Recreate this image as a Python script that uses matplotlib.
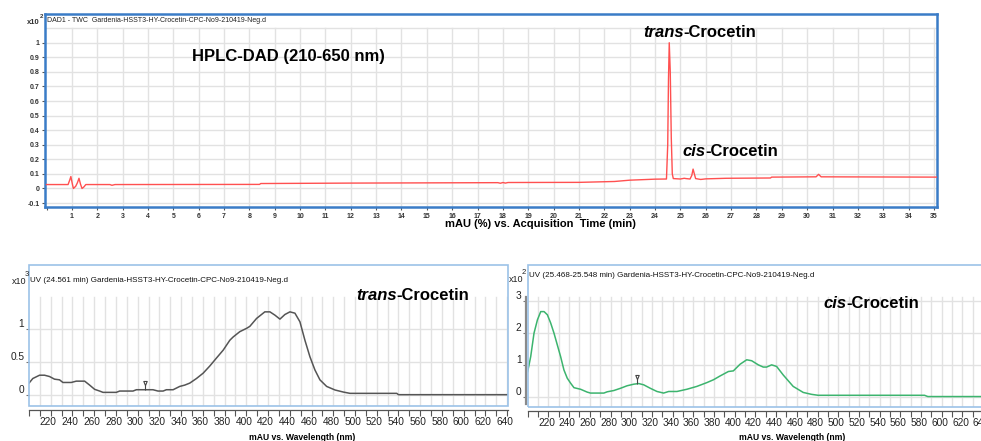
import numpy as np
import matplotlib
matplotlib.use("Agg")
import matplotlib.pyplot as plt
from matplotlib.path import Path
from matplotlib.patches import Rectangle

plt.rcParams['font.family'] = ['Liberation Sans', 'DejaVu Sans']
NARROW = ['Liberation Sans Narrow', 'Liberation Sans', 'DejaVu Sans']

# ---------------- data ----------------
tic_time = [0.0, 0.85, 0.92, 0.96, 1.02, 1.06, 1.15, 1.22, 1.28, 1.34, 1.40, 1.47, 1.55,
            2.5, 2.58, 2.7, 8.4, 8.45, 12.0, 17.8, 17.9, 18.0, 18.1, 18.2, 21.0, 22.4, 23.0,
            24.0, 24.45, 24.50, 24.53, 24.56, 24.60, 24.64, 24.68, 24.72, 25.0, 25.15, 25.22,
            25.38, 25.45, 25.50, 25.55, 25.60, 25.8, 26.0, 26.8, 28.55, 28.6, 30.35, 30.45,
            30.55, 35.1]
tic_signal = [0.027, 0.027, 0.06, 0.082, 0.03, 0.0, 0.015, 0.04, 0.07, 0.03, 0.0, 0.01, 0.027,
              0.027, 0.022, 0.027, 0.028, 0.034, 0.037, 0.040, 0.036, 0.041, 0.037, 0.041, 0.042, 0.048, 0.057,
              0.064, 0.065, 0.30, 0.75, 1.0, 0.80, 0.35, 0.10, 0.068, 0.065, 0.07, 0.068,
              0.065, 0.09, 0.133, 0.10, 0.068, 0.062, 0.066, 0.07, 0.072, 0.078, 0.08, 0.097,
              0.08, 0.078]

trans_nm = [210, 213.5, 219.7, 224.3, 228.9, 233.5, 238.1, 241.2, 248.9, 253.5, 261.2, 265.8,
            270.4, 275, 278.1, 290.3, 293.4, 305.7, 308.8, 324.1, 328.7, 333.4, 336.4, 342.6,
            348.7, 353.3, 357.9, 364.1, 370.2, 376.4, 382.5, 388.7, 394.8, 397.9, 404, 410.2,
            413.2, 419.4, 427, 431.7, 436.3, 440.9, 445.5, 450.1, 454.7, 459.3, 463.9, 468.5,
            473.1, 477.7, 483.9, 491.6, 499.2, 505.4, 548.4, 550, 650]
trans_abs = [0.18, 0.25, 0.30, 0.30, 0.28, 0.24, 0.23, 0.19, 0.19, 0.21, 0.21, 0.15,
             0.086, 0.06, 0.04, 0.04, 0.06, 0.06, 0.08, 0.08, 0.06, 0.06, 0.08, 0.08,
             0.13, 0.15, 0.18, 0.25, 0.33, 0.44, 0.56, 0.68, 0.83, 0.88, 0.96, 1.01,
             1.04, 1.16, 1.26, 1.26, 1.21, 1.15, 1.22, 1.26, 1.24, 1.11, 0.83, 0.58,
             0.38, 0.23, 0.13, 0.076, 0.045, 0.025, 0.025, 0.005, 0.005]

cis_nm = [210, 212.9, 216.1, 219.4, 222.6, 225.8, 229, 232.2, 235.4, 238.6, 241.8, 245,
          248.2, 251.5, 254.7, 261.1, 267.5, 270.7, 283.6, 286.8, 293.2, 299.6, 306, 312.4,
          317.3, 322.1, 328.5, 334.9, 341.3, 346.2, 354.2, 363.8, 373.4, 383.1, 389.5, 395.9,
          403.9, 408.7, 415.2, 421.6, 426.4, 432.8, 437.6, 440.8, 445.7, 450.5, 456.9, 466.5,
          476.2, 484.2, 490.6, 593.4, 596.6, 670]
cis_abs = [0.79, 1.26, 2.0, 2.42, 2.68, 2.68, 2.58, 2.32, 2.0, 1.63, 1.26, 0.84,
           0.58, 0.42, 0.28, 0.23, 0.14, 0.11, 0.11, 0.15, 0.19, 0.26, 0.34, 0.39,
           0.41, 0.37, 0.26, 0.16, 0.11, 0.16, 0.16, 0.23, 0.32, 0.44, 0.53, 0.65,
           0.79, 0.81, 1.02, 1.16, 1.13, 1.0, 0.93, 0.93, 1.0, 0.95, 0.68, 0.32,
           0.13, 0.07, 0.04, 0.04, 0.0, 0.0]

trans_marker_nm = 317
cis_marker_nm = 316

top_xticks = list(range(0, 36))
top_xticklabels = [''] + [str(i) for i in range(1, 36)]
top_yticks = [-0.1, 0, 0.1, 0.2, 0.3, 0.4, 0.5, 0.6, 0.7, 0.8, 0.9, 1.0]
top_yticklabels = ['-0.1', '0', '0.1', '0.2', '0.3', '0.4', '0.5', '0.6', '0.7', '0.8', '0.9', '1']
left_yticks = [0, 0.5, 1]
left_yticklabels = ['0', '0.5', '1']
right_yticks = [0, 1, 2, 3]
right_yticklabels = ['0', '1', '2', '3']

top_title = "DAD1 - TWC  Gardenia-HSST3-HY-Crocetin-CPC-No9-210419-Neg.d"
left_title = "UV (24.561 min) Gardenia-HSST3-HY-Crocetin-CPC-No9-210419-Neg.d"
right_title = "UV (25.468-25.548 min) Gardenia-HSST3-HY-Crocetin-CPC-No9-210419-Neg.d"

# ---------------- figure ----------------
W, H = 981, 441
fig = plt.figure(figsize=(W / 100, H / 100), dpi=100)
fig.patch.set_facecolor('white')


def px_axes(l, t, r, b):
    return fig.add_axes([l / W, (H - b) / H, (r - l) / W, (b - t) / H])


GRID = '#e2e2e2'


def two_part(ax, x, y, ital, rest, size=12):
    t1 = ax.text(x, y, ital, transform=ax.transAxes, fontsize=size, fontweight='bold',
                 fontstyle='italic', va='center', ha='left')
    ax.annotate(rest, xy=(1, 0), xycoords=t1, fontsize=size, fontweight='bold',
                va='bottom', ha='left')


# pin marker
pin = Path([(0, 0), (0, 1.3), (0, 1.3), (-0.45, 2.4), (0.45, 2.4), (0, 1.3)],
           [Path.MOVETO, Path.LINETO, Path.MOVETO, Path.LINETO, Path.LINETO, Path.CLOSEPOLY])

# ---------- top: chromatogram ----------
ax = px_axes(45, 14, 937, 207)
ax.set_xlim(-0.06, 35.12)
ax.set_ylim(-0.127, 1.197)
for xg in range(1, 36):
    ax.plot([xg, xg], [-0.127, 1.1], color=GRID, lw=1, zorder=0)
for yg in np.arange(-0.1, 1.15, 0.1):
    ax.axhline(yg, color=GRID, lw=1, zorder=0)
ax.plot(tic_time, tic_signal, color='#ff5050', lw=1.0, zorder=3)
ax.set_xticks(top_xticks)
ax.set_xticklabels(top_xticklabels, family=NARROW, fontsize=5, fontweight='bold', color='#333333')
ax.set_yticks(top_yticks)
ax.set_yticklabels(top_yticklabels, family=NARROW, fontsize=5, fontweight='bold', color='#333333')
ax.tick_params(axis='both', length=2.5, width=0.8, color='#555555', pad=1.5)
for s in ax.spines.values():
    s.set_color('#3a7cc7')
    s.set_linewidth(1.8)
ax.text(2 / 892, (207 - 21) / 193, top_title, transform=ax.transAxes, fontsize=5,
        va='center', ha='left', color='#222222')
ax.text((192 - 45) / 892, (207 - 57) / 193, "HPLC-DAD (210-650 nm)", transform=ax.transAxes,
        fontsize=12, fontweight='bold', va='center', ha='left')
two_part(ax, (643 - 45) / 892, (207 - 33) / 193, "trans", "-Crocetin")
two_part(ax, (682 - 45) / 892, (207 - 152) / 193, "cis", "-Crocetin")
ax.text((540 - 45) / 892, -(224 - 207) / 193, "mAU (%) vs. Acquisition  Time (min)",
        transform=ax.transAxes, fontsize=8, fontweight='bold', ha='center', va='center')
fig.text(27 / W, (H - 22) / H, "x10", fontsize=5.5, fontweight='bold', color='#333333',
         ha='left', va='center')
fig.text(39.5 / W, (H - 16) / H, "2", fontsize=4.5, fontweight='bold', color='#333333',
         ha='left', va='center')


# ---------- bottom panels ----------
def spectrum_panel(rect, xlim, ylim, nm, val, color, yticks, yticklabels, grid_top,
                   title, title_y, mult, mult_pos, marker_nm, label_xy, ital, rest, xlabel_x,
                   left_bar=False):
    ax = px_axes(*rect)
    ax.set_xlim(*xlim)
    ax.set_ylim(*ylim)
    for xg in range(220, 651, 10):
        ax.plot([xg, xg], [ylim[0], grid_top], color=GRID, lw=1, zorder=0)
    for yg in yticks:
        ax.axhline(yg, color=GRID, lw=1, zorder=0)
    ax.plot(nm, val, color=color, lw=1.1, zorder=3)
    my = np.interp(marker_nm, nm, val)
    ax.plot([marker_nm], [my], marker=pin, markersize=13, markerfacecolor='white',
            markeredgecolor='#444444', markeredgewidth=0.8, zorder=4, linestyle='none')
    # frame
    ax.add_patch(Rectangle((0, 0), 1, 1, transform=ax.transAxes, fill=False,
                           ec='#9cc2e8', lw=1.2, zorder=5, clip_on=False))
    for k in ('top', 'right', 'left'):
        ax.spines[k].set_visible(False)
    ax.spines['bottom'].set_position(('outward', 3))
    ax.spines['bottom'].set_color('#555555')
    ax.spines['bottom'].set_linewidth(0.9)
    if left_bar:
        ax.spines['left'].set_visible(True)
        ax.spines['left'].set_position(('outward', 1))
        ax.spines['left'].set_color('#8a8a8a')
        ax.spines['left'].set_linewidth(1.6)
        ax.spines['left'].set_bounds(ylim[0] * 0.7, grid_top)
    xt = list(range(210, 651, 10))
    ax.set_xticks(xt)
    ax.set_xticklabels([str(v) if (v % 20 == 0 and 220 <= v <= 640) else '' for v in xt],
                       family=NARROW, fontsize=7.3, color='#222222')
    for lab in ax.get_xticklabels():
        lab.set_horizontalalignment('left')
    ax.set_yticks(yticks)
    ax.set_yticklabels(yticklabels, family=NARROW, fontsize=7.3, color='#222222')
    for lab in ax.get_yticklabels():
        lab.set_verticalalignment('bottom')
    ax.tick_params(axis='x', length=4, width=0.8, color='#555555', pad=1)
    ax.tick_params(axis='y', length=2, width=0.8, color='#777777', pad=1.5)
    l, t, r, b = rect
    ax.text(1.5 / (r - l), (b - title_y) / (b - t), title, transform=ax.transAxes,
            fontsize=5.8, ha='left', va='center', color='#111111')
    two_part(ax, (label_xy[0] - l) / (r - l), (b - label_xy[1]) / (b - t), ital, rest)
    ax.text((xlabel_x - l) / (r - l), -(437 - b) / (b - t), "mAU vs. Wavelength (nm)",
            transform=ax.transAxes, fontsize=6.2, fontweight='bold', ha='center', va='center')
    fig.text(mult_pos[0] / W, (H - mult_pos[1]) / H, "x10", fontsize=6.5, color='#222222',
             ha='left', va='center')
    fig.text((mult_pos[0] + 12.5) / W, (H - mult_pos[1] + 7) / H, mult, fontsize=5.5,
             color='#222222', ha='left', va='center')
    return ax


spectrum_panel((29, 265, 507.7, 405.7), (210, 650.5), (-0.162, 1.97), trans_nm, trans_abs,
               '#555555', left_yticks, left_yticklabels, 1.49, left_title, 280.5, "3", (12, 281),
               trans_marker_nm, (356, 295), "trans", "-Crocetin", 302)
spectrum_panel((527.7, 265, 1003.8, 406.7), (210, 670), (-0.32, 4.15), cis_nm, cis_abs,
               '#3cb46e', right_yticks, right_yticklabels, 3.13, right_title, 275.7, "2", (509, 280),
               cis_marker_nm, (823, 303), "cis", "-Crocetin", 792, left_bar=True)

fig.savefig('out.png', dpi=100, facecolor='white')
